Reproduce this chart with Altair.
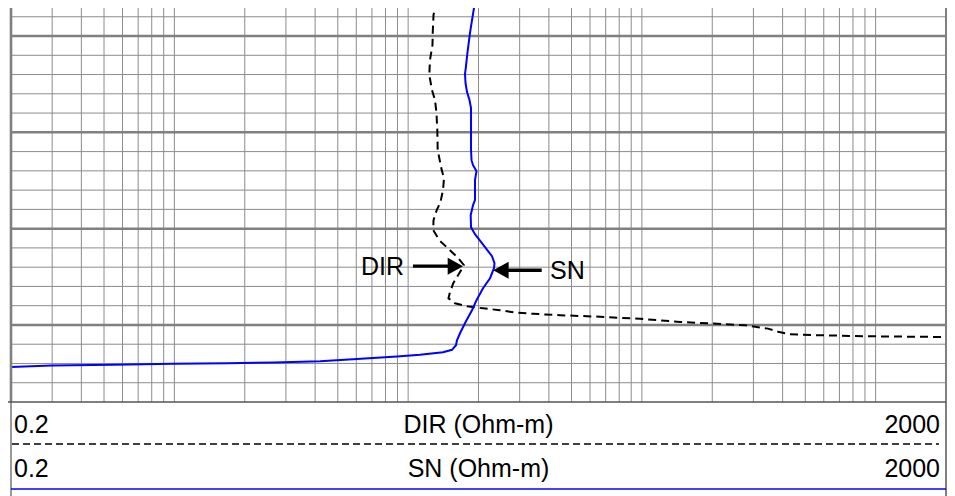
import altair as alt
import pandas as pd

# ---------------- data ----------------
sn_depth = [1516.26, 1517.09, 1518.03, 1519.69, 1521.66, 1523.12, 1523.95, 1524.88,
            1525.82, 1526.65, 1527.48, 1528.73, 1530.29, 1531.85, 1532.89, 1533.41,
            1534.03, 1534.96, 1536.00, 1537.04, 1537.56, 1538.60, 1539.85, 1540.58,
            1541.72, 1542.86, 1543.59, 1544.11, 1545.15, 1546.19, 1547.43, 1548.47,
            1549.62, 1550.86, 1551.59, 1552.11, 1552.58, 1552.84, 1553.10, 1553.28,
            1553.57, 1553.77, 1553.90, 1553.98, 1554.03, 1554.12, 1554.22, 1554.37]
sn_value = [19.42, 19.13, 18.85, 18.39, 17.95, 17.68, 17.51, 17.60,
            17.86, 18.30, 18.58, 18.58, 18.58, 18.58, 18.67, 18.95,
            19.61, 19.32, 19.32, 19.32, 18.95, 18.52, 18.58, 19.32,
            21.01, 22.84, 23.41, 23.30, 22.40, 20.91, 19.61, 18.76,
            17.68, 16.67, 16.18, 16.02, 15.40, 14.10, 11.24, 8.96,
            5.81, 4.20, 2.67, 1.68, 0.986, 0.546, 0.2995, 0.2]

dir_depth = [1516.26, 1517.82, 1519.69, 1520.94, 1522.49, 1524.05, 1525.61, 1526.65,
             1528.00, 1529.77, 1531.85, 1533.92, 1534.76, 1536.00, 1536.73, 1537.25,
             1538.08, 1539.12, 1540.16, 1541.20, 1542.24, 1543.07, 1543.80, 1544.63,
             1545.67, 1546.60, 1547.23, 1547.75, 1548.06, 1548.27, 1548.47, 1548.73,
             1548.84, 1548.99, 1549.15, 1549.36, 1549.69, 1549.86, 1550.03, 1550.38,
             1550.71, 1550.97, 1551.07, 1551.18, 1551.25]
dir_value = [13.25, 12.84, 12.74, 12.71, 12.40, 12.32, 12.65, 13.03,
             13.22, 13.33, 13.38, 13.92, 14.24, 14.10, 13.89, 13.76,
             13.25, 12.84, 12.81, 13.59, 15.10, 16.39, 17.34, 16.55,
             15.60, 15.10, 14.88, 15.87, 17.86, 20.91, 24.72, 29.23,
             34.21, 44.64, 66.2, 98.2, 145.6, 201.5, 276.2, 346.4,
             382.3, 430.3, 578, 946, 2000]

x_grid = [0.3, 0.4, 0.5, 0.6, 0.7, 0.8, 0.9,
          1, 2, 3, 4, 5, 6, 7, 8, 9,
          10, 20, 30, 40, 50, 60, 70, 80, 90,
          100, 200, 300, 400, 500, 600, 700, 800, 900, 1000]
y_thin = [1518, 1522, 1524, 1526, 1528, 1532, 1534, 1536, 1538,
          1542, 1544, 1546, 1548, 1552, 1554, 1556]
y_thick = [1520, 1530, 1540, 1550]

x_domain = [0.2, 2000]
y_domain = [1517.09, 1558.0]

# annotation arrows: label, label value, label depth, tail, shaft end, tip, arrow depth
ann_label = ["DIR", "SN"]
ann_label_x = [9.6, 40.45]
ann_label_d = [1544.84, 1545.25]
ann_tail = [10.49, 37.28]
ann_shaft_end = [15.3, 26.2]
ann_tip = [17.17, 23.14]
ann_d = [1543.90, 1544.32]

header_left = ["0.2", "0.2"]
header_mid = ["DIR (Ohm-m)", "SN (Ohm-m)"]
header_right = ["2000", "2000"]

# ---------------- chart ----------------
W, H = 935, 394
FONT = "Liberation Sans"
GRID = "#8c8c8c"

xs = alt.Scale(type="log", domain=x_domain, nice=False)
ys = alt.Scale(domain=y_domain, reverse=True, nice=False, zero=False)

vgrid = alt.Chart(pd.DataFrame({"v": x_grid})).mark_rule(
    color=GRID, strokeWidth=1).encode(x=alt.X("v:Q", scale=xs, axis=None))
hthin = alt.Chart(pd.DataFrame({"d": y_thin})).mark_rule(
    color=GRID, strokeWidth=1).encode(y=alt.Y("d:Q", scale=ys, axis=None))
hthick = alt.Chart(pd.DataFrame({"d": y_thick})).mark_rule(
    color="#808080", strokeWidth=2.5).encode(y=alt.Y("d:Q", scale=ys, axis=None))

dir_df = pd.DataFrame({"d": dir_depth, "v": dir_value})
sn_df = pd.DataFrame({"d": sn_depth, "v": sn_value})

dir_line = alt.Chart(dir_df).mark_line(
    color="black", strokeWidth=2, strokeDash=[8, 5], clip=True).encode(
    x=alt.X("v:Q", scale=xs, axis=None),
    y=alt.Y("d:Q", scale=ys, axis=None),
    order=alt.Order("d:Q"))
sn_line = alt.Chart(sn_df).mark_line(
    color="#0000ff", strokeWidth=2, clip=True).encode(
    x=alt.X("v:Q", scale=xs, axis=None),
    y=alt.Y("d:Q", scale=ys, axis=None),
    order=alt.Order("d:Q"))

ann_df = pd.DataFrame({"label": ann_label, "lx": ann_label_x, "ld": ann_label_d,
                       "tail": ann_tail, "se": ann_shaft_end, "tip": ann_tip, "d": ann_d})

shafts = alt.Chart(ann_df).mark_rule(color="black", strokeWidth=3.3).encode(
    x=alt.X("tail:Q", scale=xs, axis=None), x2="se:Q",
    y=alt.Y("d:Q", scale=ys, axis=None))
head_r = alt.Chart(ann_df[ann_df.label == "DIR"]).mark_point(
    shape="M0,0L-1.8,-1L-1.8,1Z", size=289, filled=True, color="black",
    opacity=1, strokeWidth=0).encode(
    x=alt.X("tip:Q", scale=xs, axis=None), y=alt.Y("d:Q", scale=ys, axis=None))
head_l = alt.Chart(ann_df[ann_df.label == "SN"]).mark_point(
    shape="M0,0L1.8,-1L1.8,1Z", size=289, filled=True, color="black",
    opacity=1, strokeWidth=0).encode(
    x=alt.X("tip:Q", scale=xs, axis=None), y=alt.Y("d:Q", scale=ys, axis=None))
lab_dir = alt.Chart(ann_df[ann_df.label == "DIR"]).mark_text(
    font=FONT, fontSize=25, align="right", baseline="alphabetic", color="black").encode(
    x=alt.X("lx:Q", scale=xs, axis=None), y=alt.Y("ld:Q", scale=ys, axis=None), text="label:N")
lab_sn = alt.Chart(ann_df[ann_df.label == "SN"]).mark_text(
    font=FONT, fontSize=25, align="left", baseline="alphabetic", color="black").encode(
    x=alt.X("lx:Q", scale=xs, axis=None), y=alt.Y("ld:Q", scale=ys, axis=None), text="label:N")

base = alt.Chart(pd.DataFrame({"k": [0]}))

left_border = base.mark_rule(color="#808080", strokeWidth=2.6).encode(
    x=alt.value(0), y=alt.value(0), y2=alt.value(H))
right_border = base.mark_rule(color="#808080", strokeWidth=2).encode(
    x=alt.value(W), y=alt.value(0), y2=alt.value(H))
left_hdr = base.mark_rule(color="#555555", strokeWidth=1.2).encode(
    x=alt.value(0), y=alt.value(H), y2=alt.value(H + 100))
right_hdr = base.mark_rule(color="#555555", strokeWidth=1.5).encode(
    x=alt.value(W), y=alt.value(H), y2=alt.value(H + 100))
top_hdr = base.mark_rule(color="#555555", strokeWidth=1.3).encode(
    x=alt.value(-3), x2=alt.value(W), y=alt.value(H))
dash_hdr = base.mark_rule(color="black", strokeWidth=1.5, strokeDash=[7, 4]).encode(
    x=alt.value(1), x2=alt.value(W - 7), y=alt.value(H + 42))
blue_hdr = base.mark_rule(color="#0000ff", strokeWidth=1.5).encode(
    x=alt.value(0), x2=alt.value(W), y=alt.value(H + 87))

hdr_layers = []
row_y = [H + 31, H + 75]
for i in range(2):
    row = pd.DataFrame({"l": [header_left[i]], "m": [header_mid[i]], "r": [header_right[i]]})
    rb = alt.Chart(row)
    hdr_layers.append(rb.mark_text(font=FONT, fontSize=25, align="left", baseline="alphabetic",
                                   color="black").encode(x=alt.value(3), y=alt.value(row_y[i]), text="l:N"))
    hdr_layers.append(rb.mark_text(font=FONT, fontSize=25, align="center", baseline="alphabetic",
                                   color="black").encode(x=alt.value(W / 2), y=alt.value(row_y[i]), text="m:N"))
    hdr_layers.append(rb.mark_text(font=FONT, fontSize=25, align="right", baseline="alphabetic",
                                   color="black").encode(x=alt.value(W - 6), y=alt.value(row_y[i]), text="r:N"))

chart = alt.layer(
    vgrid, hthin, hthick, dir_line, sn_line, shafts, head_r, head_l, lab_dir, lab_sn,
    left_border, right_border, left_hdr, right_hdr, top_hdr, dash_hdr, blue_hdr,
    *hdr_layers
).resolve_scale(x="shared", y="shared").properties(
    width=W, height=H,
    autosize=alt.AutoSizeParams(type="none"),
    padding={"left": 3, "top": 0, "right": 1, "bottom": 94},
    background="white",
).configure_view(strokeWidth=0)

chart.save("out.html", embed_options={"renderer": "svg", "actions": False})
